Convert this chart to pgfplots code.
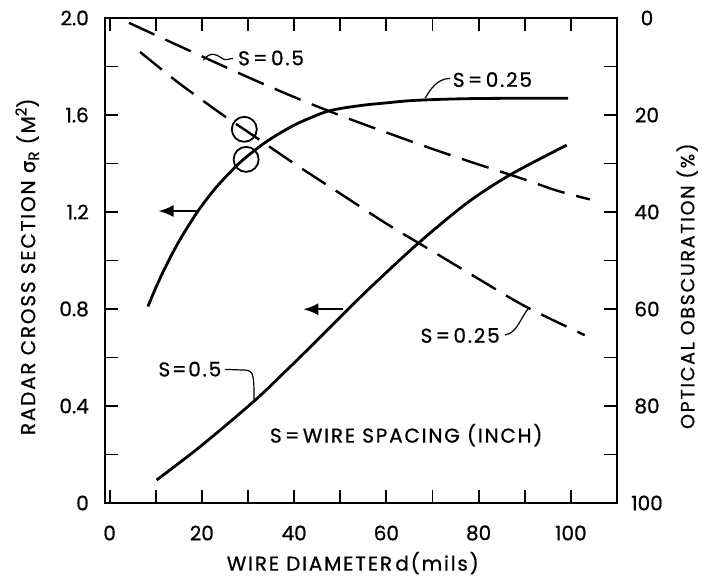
\documentclass[border=0pt]{standalone}
\usepackage{fontspec}
\setmainfont{Poppins}[FakeBold=0.8]
\newfontfamily\lab[LetterSpace=9, FakeBold=0.8]{Poppins}
\newfontfamily\dv[FakeBold=0.8]{DejaVu Sans}
\usepackage{pgfplots}
\pgfplotsset{compat=1.18}
\usetikzlibrary{arrows.meta}

\begin{document}
\begin{tikzpicture}
\pgfplotsset{
  common/.style={
    width=512pt, height=485pt, scale only axis,
    xmin=-1, xmax=110,
    tick align=inside,
    major tick length=13pt,
    every tick/.style={black, line width=1.8pt},
    axis line style={line width=2.2pt},
    tick label style={font=\fontsize{20}{22}\selectfont},
    clip=false,
  }
}
\begin{axis}[common,
  ymin=0, ymax=2,
  ytick pos=left,
  xtick={0,10,20,30,40,50,60,70,80,90,100},
  xticklabels={0,,20,,40,,60,,80,,100},
  ytick={0,0.2,0.4,0.6,0.8,1.0,1.2,1.4,1.6,1.8,2.0},
  yticklabels={0,,0.4,,0.8,,1.2,,1.6,,2.0},
  xticklabel style={anchor=center, yshift=-30pt},
  yticklabel style={anchor=east, inner sep=0pt, xshift=-16pt},
  xlabel={\lab\fontsize{20}{22}\selectfont WIRE DIAMETER\,d(mils)},
  ylabel={\lab\fontsize{20}{22}\selectfont RADAR CROSS SECTION {\dv σ}\raisebox{-0.35ex}{\fontsize{15}{15}\selectfont R} (M\raisebox{0.8ex}{\fontsize{15}{15}\selectfont 2})},
  every axis x label/.style={at={(axis description cs:0.484,-0.124)}, anchor=center},
  every axis y label/.style={at={(axis description cs:-0.152,0.487)}, anchor=center, rotate=90},
]
\coordinate (O) at (rel axis cs:0,0);
% S = 0.25 radar cross section (solid)
\addplot[black, line width=2.8pt, smooth, tension=0.6] coordinates {
 (8.3,0.81) (10,0.887) (12,0.969) (14,1.043) (16,1.110) (19.2,1.205)
 (22,1.276) (24,1.321) (27,1.381) (29.6,1.426) (34,1.490) (39.4,1.552)
 (44,1.592) (48,1.619) (54,1.638) (60,1.650) (67,1.661) (80,1.668) (99.4,1.669)};
% S = 0.5 radar cross section (solid)
\addplot[black, line width=2.8pt, smooth, tension=0.5] coordinates {
 (10.2,0.095) (19.6,0.232) (31.2,0.418) (38.4,0.548) (44.4,0.66)
 (51.5,0.795) (57.1,0.899) (66.9,1.071) (77.4,1.236) (86.8,1.353) (99.1,1.476)};
% circled points
\addplot[only marks, mark=o, mark size=12.5pt, mark options={line width=1.8pt, black}] coordinates {
 (29.2,1.541) (29.6,1.417)};
% arrows
\draw[line width=2pt, -{Latex[length=15pt,width=12pt]}] (axis cs:19.2,1.204) -- (axis cs:10.6,1.204);
\draw[line width=2pt, -{Latex[length=15pt,width=12pt]}] (axis cs:50.7,0.799) -- (axis cs:42.0,0.799);
% labels
\node[font=\lab\fontsize{20}{22}\selectfont] at (axis cs:35.0,1.835) {S\,=\,0.5};
\draw[line width=1.2pt] (axis cs:20.3,1.826) .. controls (axis cs:21.8,1.862) and (axis cs:23.0,1.852) .. (axis cs:24.2,1.836) .. controls (axis cs:25.0,1.826) .. (axis cs:26.7,1.834);
\node[font=\lab\fontsize{20}{22}\selectfont] at (axis cs:83.0,1.746) {S\,=\,0.25};
\draw[line width=1.2pt] (axis cs:68.4,1.669) .. controls (axis cs:69.5,1.705) and (axis cs:71.0,1.750) .. (axis cs:73.8,1.751);
\node[font=\lab\fontsize{20}{22}\selectfont] at (axis cs:17.4,0.552) {S=0.5};
\draw[line width=1.2pt] (axis cs:25.0,0.551) -- (axis cs:29.5,0.548) .. controls (axis cs:31.3,0.545) and (axis cs:31.3,0.52) .. (axis cs:31.3,0.425);
\node[font=\lab\fontsize{20}{22}\selectfont] at (axis cs:76.0,0.691) {S\,=\,0.25};
\draw[line width=1.2pt] (axis cs:85.7,0.693) .. controls (axis cs:88.3,0.700) and (axis cs:89.0,0.760) .. (axis cs:90.8,0.803);
\node[font=\lab\fontsize{20}{22}\selectfont] at (axis cs:64.3,0.280) {S\,=\,WIRE SPACING (INCH)};
\end{axis}

\begin{axis}[common,
  ymin=0, ymax=100, y dir=reverse,
  axis x line=none,
  axis y line*=right,
  ytick={0,10,20,30,40,50,60,70,80,90,100},
  yticklabels={0,,20,,40,,60,,80,,100},
  yticklabel style={anchor=center, xshift=30pt},
  ylabel={\lab\fontsize{19}{21}\selectfont OPTICAL OBSCURATION (\%)},
  every axis y label/.style={at={(axis description cs:1.137,0.447)}, anchor=center, rotate=90},
]
% optical obscuration S = 0.5 (dashed)
\addplot[black, line width=2.4pt, dash pattern=on 28pt off 12pt, smooth] coordinates {
 (4.2,1.0) (17,6.6) (30,12.2) (40,16.3) (50,20.1) (60,23.6) (70,27.0)
 (80,30.2) (90,33.3) (97,35.6) (104.1,37.4)};
% optical obscuration S = 0.25 (dashed)
\addplot[black, line width=2.4pt, dash pattern=on 28pt off 12pt, smooth] coordinates {
 (6.6,7.0) (15,13.4) (25,20.3) (30,23.5) (40,30.0) (50,36.2) (60,42.4)
 (70,48.1) (80,53.8) (90,59.4) (103,65.4)};
\end{axis}
\pgfresetboundingbox
\path[use as bounding box] ([shift={(-105pt,-79pt)}]O) rectangle ([shift={(597pt,503pt)}]O);
\end{tikzpicture}
\end{document}
